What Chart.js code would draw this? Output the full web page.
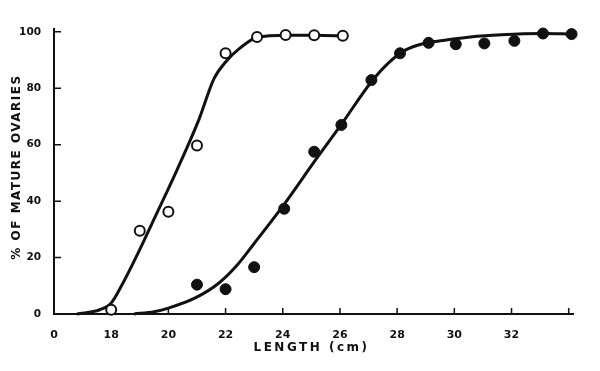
<!DOCTYPE html>
<html>
<head>
<meta charset="utf-8">
<title>% of mature ovaries by length</title>
<script src="https://cdn.jsdelivr.net/npm/chart.js@4/dist/chart.umd.min.js"></script>
<style>
    html, body { margin: 0; padding: 0; background: #fff; }
    #chart { display: block; }
</style>
</head>
<body>
<canvas id="chart" width="600" height="371"></canvas>
<script>
// Observed points, open circles (shorter group)
const openLength = [18, 19, 20, 21, 22, 23.1, 24.1, 25.1, 26.1];
const openPct = [1.5, 29.5, 36.2, 59.7, 92.4, 98.2, 98.9, 98.8, 98.6];

// Observed points, filled circles (longer group)
const filledLength = [21, 22, 23, 24.05, 25.1, 26.05, 27.1, 28.1, 29.1, 30.05, 31.05, 32.1, 33.1, 34.1];
const filledPct = [10.4, 8.8, 16.6, 37.3, 57.5, 67, 82.9, 92.4, 96.1, 95.6, 95.9, 96.8, 99.4, 99.2];

// Fitted curves
const openCurveX = [16.8, 17.6, 18, 18.35, 18.94, 19.65, 20.3, 21.06, 21.6, 22.0, 22.5, 23.1, 24.16, 25.16, 26.18];
const openCurveY = [0, 1.5, 3.9, 9.8, 21.6, 36.9, 51, 68.7, 83.5, 89.3, 94.2, 98.0, 98.8, 98.8, 98.5];
const filledCurveX = [18.8, 19.5, 20, 20.94, 21.77, 22.36, 23.0, 24.08, 25.14, 26.07, 27.1, 27.7, 28.3, 28.9, 29.6, 30.8, 31.65, 33.1, 34.1];
const filledCurveY = [0, 0.8, 2.1, 5.7, 11, 16.8, 25, 39.3, 54.5, 67.5, 82.3, 89.0, 93.6, 95.8, 96.9, 98.4, 99.0, 99.4, 99.2];

// Axes (the x axis is broken: its origin is labelled 0)
const xTickValues = [16, 18, 20, 22, 24, 26, 28, 30, 32];
const xTickLabels = ['0', '18', '20', '22', '24', '26', '28', '30', '32'];
const xTickMarks = [18, 20, 22, 24, 26, 28, 30, 32, 34];
const yTickValues = [0, 20, 40, 60, 80, 100];
const yTickMarks = [20, 40, 60, 80, 100];

const xTitle = 'LENGTH (cm)';
const yTitle = '% OF MATURE OVARIES';

function toPoints(xs, ys) {
    return xs.map((x, i) => ({ x: x, y: ys[i] }));
}

// Inward tick marks and spaced axis titles
const axisDecor = {
    id: 'axisDecor',
    beforeDatasetsDraw(chart) {
        const { ctx, chartArea, scales } = chart;
        ctx.save();
        ctx.strokeStyle = '#111';
        ctx.lineWidth = 1.5;
        ctx.beginPath();
        xTickMarks.forEach(v => {
            const px = scales.x.getPixelForValue(v);
            ctx.moveTo(px, chartArea.bottom);
            ctx.lineTo(px, chartArea.bottom - 6);
        });
        yTickMarks.forEach(v => {
            const py = scales.y.getPixelForValue(v);
            ctx.moveTo(chartArea.left, py);
            ctx.lineTo(chartArea.left + 7, py);
        });
        ctx.stroke();
        ctx.restore();
    },
    afterDraw(chart) {
        const { ctx, chartArea } = chart;
        ctx.save();
        ctx.fillStyle = '#111';
        ctx.font = 'bold 12px "DejaVu Sans"';
        ctx.textAlign = 'center';
        ctx.textBaseline = 'middle';
        ctx.letterSpacing = '2.5px';
        ctx.fillText(xTitle, (chartArea.left + chartArea.right) / 2 - 2, 348);
        ctx.translate(17, 167);
        ctx.rotate(-Math.PI / 2);
        ctx.letterSpacing = '1.5px';
        ctx.fillText(yTitle, 0, 0);
        ctx.restore();
    }
};

const ctx = document.getElementById('chart').getContext('2d');
new Chart(ctx, {
    type: 'scatter',
    data: {
        datasets: [{
            data: toPoints(openLength, openPct),
            pointRadius: 5,
            pointBackgroundColor: '#fff',
            pointBorderColor: '#111',
            pointBorderWidth: 2,
            order: 0
        }, {
            data: toPoints(filledLength, filledPct),
            pointRadius: 5.5,
            pointBackgroundColor: '#111',
            pointBorderColor: '#111',
            pointBorderWidth: 1,
            order: 0
        }, {
            type: 'line',
            data: toPoints(openCurveX, openCurveY),
            borderColor: '#111',
            borderWidth: 3,
            pointRadius: 0,
            cubicInterpolationMode: 'monotone',
            order: 1
        }, {
            type: 'line',
            data: toPoints(filledCurveX, filledCurveY),
            borderColor: '#111',
            borderWidth: 3,
            pointRadius: 0,
            cubicInterpolationMode: 'monotone',
            order: 1
        }]
    },
    options: {
        responsive: false,
        animation: false,
        clip: false,
        layout: {
            padding: { top: 29, right: 27, left: 0, bottom: 0 }
        },
        plugins: {
            legend: { display: false },
            tooltip: { enabled: false }
        },
        scales: {
            x: {
                type: 'linear',
                min: 16,
                max: 34.15,
                grid: { display: false },
                border: { display: true, color: '#111', width: 2 },
                afterBuildTicks: function (scale) {
                    scale.ticks = xTickValues.map(v => ({ value: v }));
                },
                afterFit: function (scale) {
                    scale.height = 57;
                },
                ticks: {
                    color: '#111',
                    padding: 7,
                    maxRotation: 0,
                    autoSkip: false,
                    font: { family: 'DejaVu Sans', size: 11, weight: 'bold' },
                    callback: function (value) {
                        const i = xTickValues.indexOf(value);
                        return i >= 0 ? xTickLabels[i] : '';
                    }
                }
            },
            y: {
                min: 0,
                max: 101,
                grid: { display: false },
                border: { display: true, color: '#111', width: 2 },
                afterBuildTicks: function (scale) {
                    scale.ticks = yTickValues.map(v => ({ value: v }));
                },
                afterFit: function (scale) {
                    scale.width = 54;
                },
                ticks: {
                    color: '#111',
                    padding: 5,
                    font: { family: 'DejaVu Sans', size: 10.5, weight: 'bold' }
                }
            }
        }
    },
    plugins: [axisDecor]
});
</script>
</body>
</html>
